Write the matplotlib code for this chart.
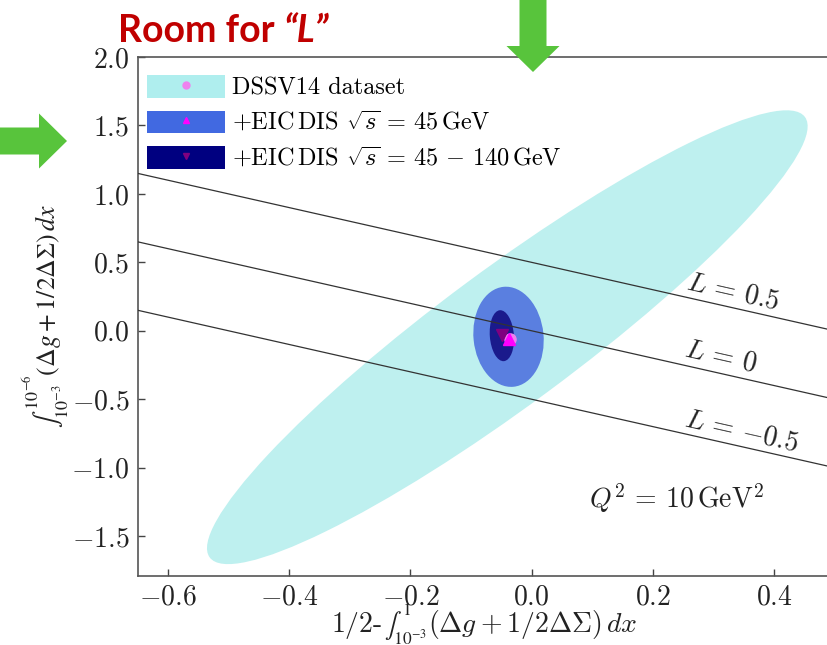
import numpy as np
import matplotlib
matplotlib.use("Agg")
import matplotlib.pyplot as plt
from matplotlib.patches import Ellipse, Patch, FancyArrow
from matplotlib.lines import Line2D
from matplotlib.transforms import Affine2D, IdentityTransform
from matplotlib.offsetbox import TextArea, HPacker, AnchoredOffsetbox

plt.rcParams['font.family'] = 'serif'
plt.rcParams['font.serif'] = ['cmr10']
plt.rcParams['mathtext.fontset'] = 'cm'
plt.rcParams['axes.formatter.use_mathtext'] = True

# ellipses: centre and two half-axis vectors (data units)
dssv_center = [-0.040, -0.047]
dssv_u = [0.491, 1.609]
dssv_v = [0.0668, -0.3985]

eic45_center = [-0.038, -0.044]
eic45_u = [-0.0083, 0.365]
eic45_v = [0.0575, 0.0255]

eic140_center = [-0.049, -0.036]
eic140_u = [-0.0033, 0.186]
eic140_v = [0.0198, 0.0073]

# best fit points
dssv_pt = [-0.035, -0.060]
eic45_pt = [-0.037, -0.058]
eic140_pt = [-0.048, -0.029]

# lines x + y = L
L_values = [0.5, 0.0, -0.5]
L_labels = [r'$L\,=\,0.5$', r'$L\,=\,0$', r'$L\,=\,{-}0.5$']
L_label_x = [0.332, 0.313, 0.347]
L_label_y = [0.285, -0.190, -0.737]

xticks = [-0.6, -0.4, -0.2, 0.0, 0.2, 0.4]
yticks = [-1.5, -1.0, -0.5, 0.0, 0.5, 1.0, 1.5, 2.0]

W, H = 827, 645
fig = plt.figure(figsize=(W / 100, H / 100), dpi=100)
ax = fig.add_axes([137.6 / W, (H - 575.8) / H, 697 / W, (575.8 - 57) / H])
ax.set_xlim(-0.65, 0.5)
ax.set_ylim(-1.79, 2.0)


def add_ellipse(center, u, v, color, z):
    m = Affine2D(np.array([[u[0], v[0], center[0]],
                           [u[1], v[1], center[1]],
                           [0, 0, 1]]))
    e = Ellipse((0, 0), 2, 2, facecolor=color, edgecolor='none',
                transform=m + ax.transData, zorder=z)
    ax.add_patch(e)


add_ellipse(dssv_center, dssv_u, dssv_v, '#BEF0EF', 1)
add_ellipse(eic45_center, eic45_u, eic45_v, '#5A7FE0', 2)
add_ellipse(eic140_center, eic140_u, eic140_v, '#1A1A8C', 3)

for L in L_values:
    ax.axline((0, L), slope=-1, color='#333333', lw=0.9, zorder=4)

ax.plot(*dssv_pt, 'o', color='violet', ms=8, zorder=5)
ax.plot(*eic45_pt, '^', color='magenta', ms=9, zorder=6)
ax.plot(*eic140_pt, 'v', color='purple', ms=8, zorder=5)

for lab, lx, ly in zip(L_labels, L_label_x, L_label_y):
    ax.text(lx, ly, lab, fontsize=20, rotation=-12.7, ha='center', va='center',
            rotation_mode='anchor', color='#222222')

ax.text(0.24, -1.22, r'$Q^2\,=\,10\,\mathrm{GeV}^2$', fontsize=20,
        ha='center', va='center', color='#222222')

ax.set_xticks(xticks)
ax.set_yticks(yticks)
ax.tick_params(direction='in', length=5, width=1, colors='#444444',
               labelcolor='#222222', labelsize=20, pad=6)
for s in ax.spines.values():
    s.set_color('#555555')
    s.set_linewidth(1.2)

handles = [
    (Patch(facecolor='paleturquoise', edgecolor='none'),
     Line2D([], [], marker='o', color='violet', ls='', ms=5)),
    (Patch(facecolor='royalblue', edgecolor='none'),
     Line2D([], [], marker='^', color='magenta', ls='', ms=5)),
    (Patch(facecolor='navy', edgecolor='none'),
     Line2D([], [], marker='v', color='purple', ls='', ms=5)),
]
labels = ['DSSV14 dataset',
          r'+EIC$\,$DIS $\sqrt{s}\,=\,45\,\mathrm{GeV}$',
          r'+EIC$\,$DIS $\sqrt{s}\,=\,45\,-\,140\,\mathrm{GeV}$']
fig.legend(handles, labels, loc='upper left', bbox_to_anchor=(147 / W, 1 - 75 / H),
           frameon=False, fontsize=17.5, handlelength=3.2, handleheight=1.05,
           handletextpad=0.3, labelspacing=0.45, borderpad=0, borderaxespad=0)

# x label: cm text with a stix integral sign in the middle
cm_props = dict(fontsize=20, color='#222222')
st_props = dict(fontsize=18, color='#222222', math_fontfamily='stix')
xlab = HPacker(children=[TextArea(r'$1/2$-', textprops=cm_props),
                         TextArea(r'$\int_{10^{-3}}^{1}$', textprops=st_props),
                         TextArea(r'$(\Delta g + 1/2\Delta\Sigma)\,dx$',
                                  textprops=cm_props)],
               align='baseline', pad=0, sep=1)
fig.add_artist(AnchoredOffsetbox(loc='center', child=xlab, pad=0, borderpad=0,
                                 frameon=False,
                                 bbox_to_anchor=(484 / W, 1 - 624 / H),
                                 bbox_transform=fig.transFigure))

fig.text(46 / W, 1 - 316 / H,
         r'$\int_{10^{-3}}^{10^{-6}}(\Delta g + 1/2\Delta\Sigma)\,dx$',
         fontsize=18.5, ha='center', va='center', rotation=90, color='#222222',
         math_fontfamily='stix')

# slide annotations
green = '#58C43C'
fig.add_artist(FancyArrow(533, H + 5, 0, -(72 + 5), width=27, head_width=53,
                          head_length=26, length_includes_head=True,
                          color=green, transform=IdentityTransform(), lw=0))
fig.add_artist(FancyArrow(-5, H - 141, 72, 0, width=27, head_width=55,
                          head_length=28, length_includes_head=True,
                          color=green, transform=IdentityTransform(), lw=0))

t1 = fig.text(118 / W, 1 - 42 / H, 'Room for ', fontsize=27, fontweight='bold',
              family='Lato', color='#C00000', va='baseline')
r = fig.canvas.get_renderer()
bb = t1.get_window_extent(renderer=r)
fig.text(bb.x1 / W, 1 - 42 / H, '\u201cL\u201d', fontsize=27, fontweight='bold',
         style='italic', family='Lato', color='#C00000', va='baseline')

fig.savefig('out.png', dpi=100)
